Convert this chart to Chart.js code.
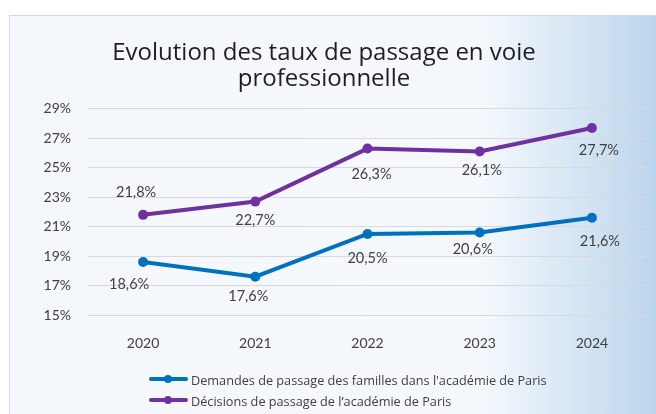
<!DOCTYPE html>
<html>
<head>
<meta charset="utf-8">
<script src="https://cdn.jsdelivr.net/npm/chart.js@4.4.1/dist/chart.umd.min.js"></script>
<style>
    html, body { margin: 0; padding: 0; background: #fff; }
    #frame {
        position: absolute; left: 9px; top: 15px; width: 700px; height: 420px;
        border: 1px solid #d9d9d9;
        background: linear-gradient(to right, #f4f7fb 0px, #f5f9fd 470px, #bcd5ec 647px);
    }
    #wrap { position: absolute; left: 0; top: 0; width: 656px; height: 414px; }
    #legend { position: absolute; left: 149px; top: 369px; font-family: "Open Sans", sans-serif; font-size: 12.7px; color: #404040; }
    #legend .item { height: 21px; display: flex; align-items: center; }
    #legend .mark { position: relative; width: 39px; height: 21px; margin-right: 3px; }
    #legend .mark .ln { position: absolute; left: 0; right: 0; top: 8px; height: 4px; border-radius: 2px; }
    #legend .mark .dot { position: absolute; left: 15px; top: 6px; width: 8px; height: 8px; border-radius: 50%; }
</style>
</head>
<body>
<div id="frame"></div>
<div id="wrap"><canvas id="line-chart" width="656" height="414"></canvas></div>
<div id="legend"></div>
<script>
    var years = ["2020", "2021", "2022", "2023", "2024"];
    var demandes = [18.6, 17.6, 20.5, 20.6, 21.6];
    var decisions = [21.8, 22.7, 26.3, 26.1, 27.7];
    var yTicks = [15, 17, 19, 21, 23, 25, 27, 29];

    // label placement around each point (dx, dy), as moved by hand in the original
    var demandesOffsets = [[-14, 22], [-7, 20], [0, 24], [-7, 17], [8, 24]];
    var decisionsOffsets = [[-7, -23], [0, 19], [4, 26], [2, 19], [7, 22]];

    function fmt(v) {
        return v.toFixed(1).replace('.', ',') + '%';
    }

    var pointLabels = {
        id: 'pointLabels',
        afterDatasetsDraw: function (chart) {
            var ctx = chart.ctx;
            ctx.save();
            ctx.font = '14.5px Lato';
            ctx.fillStyle = '#404040';
            ctx.textAlign = 'center';
            ctx.textBaseline = 'middle';
            chart.data.datasets.forEach(function (ds, i) {
                var meta = chart.getDatasetMeta(i);
                meta.data.forEach(function (pt, j) {
                    var off = ds.labelOffsets[j];
                    ctx.fillText(fmt(ds.data[j]), pt.x + off[0], pt.y + off[1]);
                });
            });
            ctx.restore();
        }
    };

    var chart = new Chart(document.getElementById('line-chart'), {
        type: 'line',
        data: {
            labels: years,
            datasets: [
                {
                    label: "Demandes de passage des familles dans l'académie de Paris",
                    data: demandes,
                    borderColor: '#0070c0',
                    backgroundColor: '#0070c0',
                    labelOffsets: demandesOffsets
                },
                {
                    label: "Décisions de passage de l\u2019académie de Paris",
                    data: decisions,
                    borderColor: '#7030a0',
                    backgroundColor: '#7030a0',
                    labelOffsets: decisionsOffsets
                }
            ]
        },
        options: {
            responsive: false,
            animation: false,
            layout: { padding: { left: 0, right: 8, top: 40, bottom: 59 } },
            elements: {
                line: { borderWidth: 4, tension: 0, borderCapStyle: 'round' },
                point: { radius: 5, borderWidth: 0, hoverRadius: 5 }
            },
            plugins: {
                legend: { display: false },
                tooltip: { enabled: false },
                title: {
                    display: true,
                    text: ['Evolution des taux de passage en voie', 'professionnelle'],
                    color: '#1f1f1f',
                    font: { family: 'Open Sans', size: 24, weight: 'normal', lineHeight: 1.1 },
                    padding: { top: 0, bottom: 16 }
                }
            },
            scales: {
                x: {
                    offset: true,
                    grid: { display: false },
                    border: { display: false },
                    ticks: { color: '#404040', font: { family: 'Lato', size: 14 }, padding: 12 },
                    afterFit: function (s) { s.height = 40; }
                },
                y: {
                    min: yTicks[0],
                    max: yTicks[yTicks.length - 1],
                    afterBuildTicks: function (s) {
                        s.ticks = yTicks.map(function (v) { return { value: v }; });
                    },
                    grid: { color: '#d9d9d9', lineWidth: 1, drawTicks: false },
                    border: { display: false },
                    ticks: {
                        color: '#404040',
                        font: { family: 'Lato', size: 14 },
                        padding: 16,
                        callback: function (v) { return v + '%'; }
                    },
                    afterFit: function (s) { s.width = 87; }
                }
            }
        },
        plugins: [pointLabels]
    });

    // legend built from the datasets, stacked like the original
    var legend = document.getElementById('legend');
    chart.data.datasets.forEach(function (ds) {
        var item = document.createElement('div');
        item.className = 'item';
        item.innerHTML = '<span class="mark"><span class="ln" style="background:' + ds.borderColor +
            '"></span><span class="dot" style="background:' + ds.borderColor + '"></span></span>' +
            '<span></span>';
        item.lastChild.textContent = ds.label;
        legend.appendChild(item);
    });
</script>
</body>
</html>
